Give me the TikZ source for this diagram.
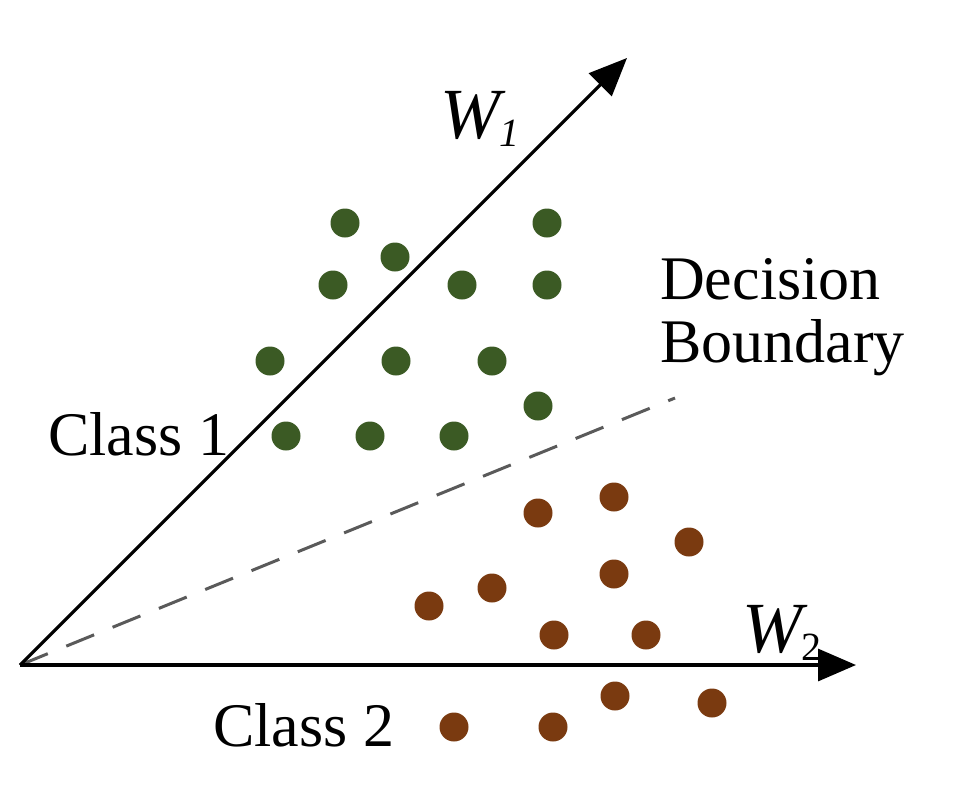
\documentclass[tikz,border=0pt]{standalone}
\usepackage{fontspec}
\setmainfont{Liberation Serif}
\usetikzlibrary{arrows.meta}
\definecolor{dotgreen}{HTML}{3B5A24}
\definecolor{dotbrown}{HTML}{7A3A10}
\definecolor{dashgray}{HTML}{5A5A5A}
\tikzset{
  axis/.style={line width=3.2pt, -{Triangle[length=38pt,width=32pt]}},
  bound/.style={line width=3pt, dashgray, dash pattern=on 30pt off 20pt},
  gdot/.style={circle, fill=dotgreen, inner sep=0pt, minimum size=29pt},
  bdot/.style={circle, fill=dotbrown, inner sep=0pt, minimum size=29pt},
  lbl/.style={font=\fontsize{62}{63}\selectfont, inner sep=0pt, align=left},
}
\begin{document}
\begin{tikzpicture}[x=1pt,y=-1pt]
\useasboundingbox (0,0) rectangle (960,793);
\coordinate (O) at (20,665);
\coordinate (W1tip) at (627,58);
\coordinate (W2tip) at (856,665);
\coordinate (Dend) at (675,398);
\draw[bound] (O) -- (Dend);
\draw[axis] (O) -- (W1tip);
\draw[axis] (O) -- (W2tip);
% green dots
\foreach \x/\y [count=\i] in {345/223,395/257,333/285,462/285,547/223,547/285,270/361,396/361,492/361,538/406,286/436,370/436,454/436}
  \node[gdot] (g\i) at (\x,\y) {};
% brown dots
\foreach \x/\y [count=\i] in {538/513,614/497,689/542,614/574,492/588,429/606,554/635,646/635,615/696,712/703,454/727,553/727}
  \node[bdot] (b\i) at (\x,\y) {};
% labels
\node[lbl, anchor=base west] (c1) at (48,455) {Class 1};
\node[lbl, anchor=base west] (c2) at (213,746) {Class 2};
\node[lbl, anchor=base west] (db) at (660,362) {Decision\\Boundary};
\node[inner sep=0pt, anchor=base west] (w1) at (440,138) {\fontsize{72}{72}\selectfont\itshape W\kern-1pt\raisebox{-8pt}{\fontsize{40}{40}\selectfont 1}};
\node[inner sep=0pt, anchor=base west] (w2) at (742,652) {\fontsize{72}{72}\selectfont\itshape W\kern-1pt\raisebox{-8pt}{\fontsize{40}{40}\selectfont\upshape 2}};
\end{tikzpicture}
\end{document}
